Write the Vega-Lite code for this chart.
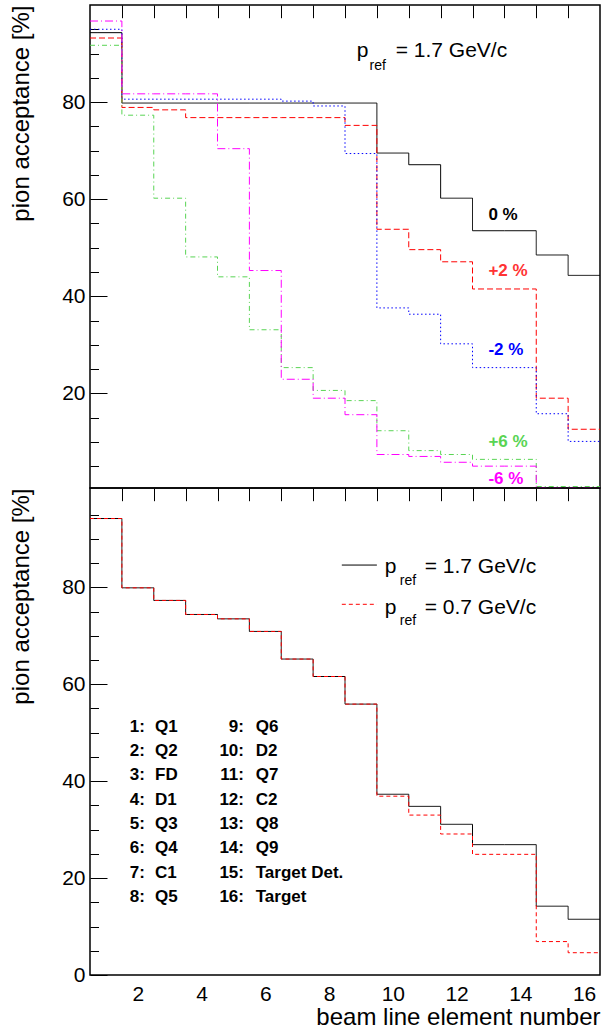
{
  "$schema": "https://vega.github.io/schema/vega-lite/v6.json",
  "padding": {"left": 8, "top": 4, "right": 3, "bottom": 0},
  "spacing": 0,
  "bounds": "flush",
  "config": {
    "font": "Liberation Sans",
    "view": {"stroke": "#000000", "strokeWidth": 1.5},
    "axis": {"domain": false, "ticks": false, "grid": true, "gridColor": "#000000", "gridWidth": 1, "gridOpacity": 1, "labelColor": "#000000", "titleColor": "#000000", "labelFont": "Liberation Sans", "titleFont": "Liberation Sans", "labelFontSize": 21, "titleFontSize": 24, "titleFontWeight": "normal", "labelOverlap": false, "labelBound": false, "labelFlush": false},
    "text": {"font": "Liberation Sans"}
  },
  "resolve": {"scale": {"x": "independent", "y": "independent", "color": "independent", "strokeDash": "independent"}},
  "vconcat": [
    {
      "width": 510,
      "height": 483,
      "resolve": {"axis": {"x": "independent", "y": "independent"}},
      "layer": [
        {
          "data": {"values": [
            {"series": "0 %", "element": 0.5, "acceptance": 94.3},
            {"series": "0 %", "element": 1, "acceptance": 94.3},
            {"series": "0 %", "element": 2, "acceptance": 79.8},
            {"series": "0 %", "element": 3, "acceptance": 79.8},
            {"series": "0 %", "element": 4, "acceptance": 79.8},
            {"series": "0 %", "element": 5, "acceptance": 79.8},
            {"series": "0 %", "element": 6, "acceptance": 79.8},
            {"series": "0 %", "element": 7, "acceptance": 79.8},
            {"series": "0 %", "element": 8, "acceptance": 79.8},
            {"series": "0 %", "element": 9, "acceptance": 79.8},
            {"series": "0 %", "element": 10, "acceptance": 69.5},
            {"series": "0 %", "element": 11, "acceptance": 67.1},
            {"series": "0 %", "element": 12, "acceptance": 60.2},
            {"series": "0 %", "element": 13, "acceptance": 53.5},
            {"series": "0 %", "element": 14, "acceptance": 53.5},
            {"series": "0 %", "element": 15, "acceptance": 48.5},
            {"series": "0 %", "element": 16, "acceptance": 44.3},
            {"series": "0 %", "element": 16.5, "acceptance": 44.3},
            {"series": "+2 %", "element": 0.5, "acceptance": 93.2},
            {"series": "+2 %", "element": 1, "acceptance": 93.2},
            {"series": "+2 %", "element": 2, "acceptance": 78.9},
            {"series": "+2 %", "element": 3, "acceptance": 78.4},
            {"series": "+2 %", "element": 4, "acceptance": 76.8},
            {"series": "+2 %", "element": 5, "acceptance": 76.8},
            {"series": "+2 %", "element": 6, "acceptance": 76.8},
            {"series": "+2 %", "element": 7, "acceptance": 76.8},
            {"series": "+2 %", "element": 8, "acceptance": 76.8},
            {"series": "+2 %", "element": 9, "acceptance": 75.2},
            {"series": "+2 %", "element": 10, "acceptance": 53.8},
            {"series": "+2 %", "element": 11, "acceptance": 49.6},
            {"series": "+2 %", "element": 12, "acceptance": 47.1},
            {"series": "+2 %", "element": 13, "acceptance": 41.5},
            {"series": "+2 %", "element": 14, "acceptance": 41.5},
            {"series": "+2 %", "element": 15, "acceptance": 19.0},
            {"series": "+2 %", "element": 16, "acceptance": 12.6},
            {"series": "+2 %", "element": 16.5, "acceptance": 12.6},
            {"series": "-2 %", "element": 0.5, "acceptance": 95.0},
            {"series": "-2 %", "element": 1, "acceptance": 95.0},
            {"series": "-2 %", "element": 2, "acceptance": 80.6},
            {"series": "-2 %", "element": 3, "acceptance": 80.6},
            {"series": "-2 %", "element": 4, "acceptance": 80.6},
            {"series": "-2 %", "element": 5, "acceptance": 80.6},
            {"series": "-2 %", "element": 6, "acceptance": 80.6},
            {"series": "-2 %", "element": 7, "acceptance": 80.2},
            {"series": "-2 %", "element": 8, "acceptance": 79.2},
            {"series": "-2 %", "element": 9, "acceptance": 69.4},
            {"series": "-2 %", "element": 10, "acceptance": 37.6},
            {"series": "-2 %", "element": 11, "acceptance": 36.3},
            {"series": "-2 %", "element": 12, "acceptance": 30.2},
            {"series": "-2 %", "element": 13, "acceptance": 25.3},
            {"series": "-2 %", "element": 14, "acceptance": 25.3},
            {"series": "-2 %", "element": 15, "acceptance": 15.8},
            {"series": "-2 %", "element": 16, "acceptance": 10.1},
            {"series": "-2 %", "element": 16.5, "acceptance": 10.1},
            {"series": "+6 %", "element": 0.5, "acceptance": 91.7},
            {"series": "+6 %", "element": 1, "acceptance": 91.7},
            {"series": "+6 %", "element": 2, "acceptance": 77.3},
            {"series": "+6 %", "element": 3, "acceptance": 60.2},
            {"series": "+6 %", "element": 4, "acceptance": 48.1},
            {"series": "+6 %", "element": 5, "acceptance": 44.0},
            {"series": "+6 %", "element": 6, "acceptance": 33.1},
            {"series": "+6 %", "element": 7, "acceptance": 25.3},
            {"series": "+6 %", "element": 8, "acceptance": 20.6},
            {"series": "+6 %", "element": 9, "acceptance": 18.5},
            {"series": "+6 %", "element": 10, "acceptance": 12.3},
            {"series": "+6 %", "element": 11, "acceptance": 8.2},
            {"series": "+6 %", "element": 12, "acceptance": 7.4},
            {"series": "+6 %", "element": 13, "acceptance": 6.4},
            {"series": "+6 %", "element": 14, "acceptance": 6.4},
            {"series": "+6 %", "element": 15, "acceptance": 0.8},
            {"series": "+6 %", "element": 16, "acceptance": 0.8},
            {"series": "+6 %", "element": 16.5, "acceptance": 0.8},
            {"series": "-6 %", "element": 0.5, "acceptance": 96.7},
            {"series": "-6 %", "element": 1, "acceptance": 96.7},
            {"series": "-6 %", "element": 2, "acceptance": 81.7},
            {"series": "-6 %", "element": 3, "acceptance": 81.7},
            {"series": "-6 %", "element": 4, "acceptance": 81.7},
            {"series": "-6 %", "element": 5, "acceptance": 70.4},
            {"series": "-6 %", "element": 6, "acceptance": 45.3},
            {"series": "-6 %", "element": 7, "acceptance": 22.9},
            {"series": "-6 %", "element": 8, "acceptance": 19.0},
            {"series": "-6 %", "element": 9, "acceptance": 15.6},
            {"series": "-6 %", "element": 10, "acceptance": 7.4},
            {"series": "-6 %", "element": 11, "acceptance": 7.0},
            {"series": "-6 %", "element": 12, "acceptance": 5.8},
            {"series": "-6 %", "element": 13, "acceptance": 5.0},
            {"series": "-6 %", "element": 14, "acceptance": 5.0},
            {"series": "-6 %", "element": 15, "acceptance": 0.6},
            {"series": "-6 %", "element": 16, "acceptance": 0.6},
            {"series": "-6 %", "element": 16.5, "acceptance": 0.6}
          ]},
          "mark": {"type": "line", "interpolate": "step", "strokeWidth": 1, "clip": true},
          "encoding": {
            "x": {"field": "element", "type": "quantitative", "scale": {"domain": [0.5, 16.5], "nice": false, "zero": false},
                  "axis": {"orient": "bottom", "values": [1.5, 2.5, 3.5, 4.5, 5.5, 6.5, 7.5, 8.5, 9.5, 10.5, 11.5, 12.5, 13.5, 14.5, 15.5], "gridDash": [12.7, 3000], "labels": false, "title": null}},
            "y": {"field": "acceptance", "type": "quantitative", "scale": {"domain": [0.5, 100], "nice": false, "zero": false},
                  "axis": {"orient": "left", "values": [5, 10, 15, 20, 25, 30, 35, 40, 45, 50, 55, 60, 65, 70, 75, 80, 85, 90, 95],
                           "gridDash": {"condition": {"test": "datum.value % 20 === 0", "value": [17, 3000]}, "value": [8.5, 3000]},
                           "labelExpr": "datum.value % 20 === 0 ? format(datum.value, 'd') : ''", "labelPadding": 5,
                           "title": "pion acceptance [%]", "titleAnchor": "end", "titlePadding": 28}},
            "color": {"field": "series", "type": "nominal", "legend": null,
                      "scale": {"domain": ["0 %", "+2 %", "-2 %", "+6 %", "-6 %"], "range": ["#000000", "#ff0000", "#0000ff", "#59d454", "#ff00ff"]}},
            "strokeDash": {"field": "series", "type": "nominal", "legend": null,
                           "scale": {"domain": ["0 %", "+2 %", "-2 %", "+6 %", "-6 %"], "range": [[1, 0], [6, 3], [1.5, 2.5], [5, 3, 1, 3], [8, 3, 1, 3]]}}
          }
        },
        {
          "data": {"values": [{}]},
          "mark": {"type": "text", "text": "p", "align": "left", "baseline": "alphabetic", "fontSize": 21, "color": "#000000"},
          "encoding": {
            "x": {"datum": 8.87, "type": "quantitative", "axis": {"orient": "top", "values": [1.5, 2.5, 3.5, 4.5, 5.5, 6.5, 7.5, 8.5, 9.5, 10.5, 11.5, 12.5, 13.5, 14.5, 15.5], "gridDash": [12.7, 3000], "labels": false, "title": null}},
            "y": {"datum": 89.2, "type": "quantitative", "axis": {"orient": "right", "values": [5, 10, 15, 20, 25, 30, 35, 40, 45, 50, 55, 60, 65, 70, 75, 80, 85, 90, 95], "gridDash": {"condition": {"test": "datum.value % 20 === 0", "value": [17, 3000]}, "value": [8.5, 3000]}, "labels": false, "title": null}}
          }
        },
        {
          "data": {"values": [{}]},
          "mark": {"type": "text", "text": "ref", "align": "left", "baseline": "alphabetic", "fontSize": 14, "color": "#000000"},
          "encoding": {"x": {"datum": 9.27, "type": "quantitative", "axis": null}, "y": {"datum": 86.65, "type": "quantitative", "axis": null}}
        },
        {
          "data": {"values": [{}]},
          "mark": {"type": "text", "text": "= 1.7 GeV/c", "align": "left", "baseline": "alphabetic", "fontSize": 21, "color": "#000000"},
          "encoding": {"x": {"datum": 10.09, "type": "quantitative", "axis": null}, "y": {"datum": 89.2, "type": "quantitative", "axis": null}}
        },
        {
          "data": {"values": [{}]},
          "mark": {"type": "text", "text": "0 %", "align": "left", "baseline": "alphabetic", "fontSize": 17, "fontWeight": "bold", "color": "#000000"},
          "encoding": {"x": {"datum": 13.0, "type": "quantitative", "axis": null}, "y": {"datum": 55.8, "type": "quantitative", "axis": null}}
        },
        {
          "data": {"values": [{}]},
          "mark": {"type": "text", "text": "+2 %", "align": "left", "baseline": "alphabetic", "fontSize": 17, "fontWeight": "bold", "color": "#ff3333"},
          "encoding": {"x": {"datum": 13.0, "type": "quantitative", "axis": null}, "y": {"datum": 44.1, "type": "quantitative", "axis": null}}
        },
        {
          "data": {"values": [{}]},
          "mark": {"type": "text", "text": "-2 %", "align": "left", "baseline": "alphabetic", "fontSize": 17, "fontWeight": "bold", "color": "#0000ff"},
          "encoding": {"x": {"datum": 13.0, "type": "quantitative", "axis": null}, "y": {"datum": 27.95, "type": "quantitative", "axis": null}}
        },
        {
          "data": {"values": [{}]},
          "mark": {"type": "text", "text": "+6 %", "align": "left", "baseline": "alphabetic", "fontSize": 17, "fontWeight": "bold", "color": "#59d454"},
          "encoding": {"x": {"datum": 13.0, "type": "quantitative", "axis": null}, "y": {"datum": 8.9, "type": "quantitative", "axis": null}}
        },
        {
          "data": {"values": [{}]},
          "mark": {"type": "text", "text": "-6 %", "align": "left", "baseline": "alphabetic", "fontSize": 17, "fontWeight": "bold", "color": "#ff00ff"},
          "encoding": {"x": {"datum": 13.0, "type": "quantitative", "axis": null}, "y": {"datum": 1.4, "type": "quantitative", "axis": null}}
        }
      ]
    },
    {
      "width": 510,
      "height": 487,
      "resolve": {"axis": {"x": "independent", "y": "independent"}},
      "layer": [
        {
          "data": {"values": [
            {"series": "1.7 GeV/c", "element": 0.5, "acceptance": 94.2},
            {"series": "1.7 GeV/c", "element": 1, "acceptance": 94.2},
            {"series": "1.7 GeV/c", "element": 2, "acceptance": 79.9},
            {"series": "1.7 GeV/c", "element": 3, "acceptance": 77.3},
            {"series": "1.7 GeV/c", "element": 4, "acceptance": 74.4},
            {"series": "1.7 GeV/c", "element": 5, "acceptance": 73.5},
            {"series": "1.7 GeV/c", "element": 6, "acceptance": 70.9},
            {"series": "1.7 GeV/c", "element": 7, "acceptance": 65.2},
            {"series": "1.7 GeV/c", "element": 8, "acceptance": 61.6},
            {"series": "1.7 GeV/c", "element": 9, "acceptance": 55.9},
            {"series": "1.7 GeV/c", "element": 10, "acceptance": 37.3},
            {"series": "1.7 GeV/c", "element": 11, "acceptance": 34.8},
            {"series": "1.7 GeV/c", "element": 12, "acceptance": 31.1},
            {"series": "1.7 GeV/c", "element": 13, "acceptance": 26.9},
            {"series": "1.7 GeV/c", "element": 14, "acceptance": 26.9},
            {"series": "1.7 GeV/c", "element": 15, "acceptance": 14.2},
            {"series": "1.7 GeV/c", "element": 16, "acceptance": 11.5},
            {"series": "1.7 GeV/c", "element": 16.5, "acceptance": 11.5},
            {"series": "0.7 GeV/c", "element": 0.5, "acceptance": 94.2},
            {"series": "0.7 GeV/c", "element": 1, "acceptance": 94.2},
            {"series": "0.7 GeV/c", "element": 2, "acceptance": 79.9},
            {"series": "0.7 GeV/c", "element": 3, "acceptance": 77.3},
            {"series": "0.7 GeV/c", "element": 4, "acceptance": 74.4},
            {"series": "0.7 GeV/c", "element": 5, "acceptance": 73.5},
            {"series": "0.7 GeV/c", "element": 6, "acceptance": 70.9},
            {"series": "0.7 GeV/c", "element": 7, "acceptance": 65.2},
            {"series": "0.7 GeV/c", "element": 8, "acceptance": 61.6},
            {"series": "0.7 GeV/c", "element": 9, "acceptance": 55.9},
            {"series": "0.7 GeV/c", "element": 10, "acceptance": 36.9},
            {"series": "0.7 GeV/c", "element": 11, "acceptance": 33.0},
            {"series": "0.7 GeV/c", "element": 12, "acceptance": 29.1},
            {"series": "0.7 GeV/c", "element": 13, "acceptance": 24.9},
            {"series": "0.7 GeV/c", "element": 14, "acceptance": 24.9},
            {"series": "0.7 GeV/c", "element": 15, "acceptance": 6.9},
            {"series": "0.7 GeV/c", "element": 16, "acceptance": 4.6},
            {"series": "0.7 GeV/c", "element": 16.5, "acceptance": 4.6}
          ]},
          "mark": {"type": "line", "interpolate": "step", "strokeWidth": 1, "clip": true},
          "encoding": {
            "x": {"field": "element", "type": "quantitative", "scale": {"domain": [0.5, 16.5], "nice": false, "zero": false},
                  "axis": {"orient": "bottom", "values": [1.5, 2, 2.5, 3.5, 4, 4.5, 5.5, 6, 6.5, 7.5, 8, 8.5, 9.5, 10, 10.5, 11.5, 12, 12.5, 13.5, 14, 14.5, 15.5, 16],
                           "gridDash": [12.7, 3000], "gridOpacity": {"condition": {"test": "datum.value % 1 === 0", "value": 0}, "value": 1},
                           "labelExpr": "datum.value % 2 === 0 ? format(datum.value, 'd') : ''", "labelPadding": 8.3,
                           "title": "beam line element number", "titleAnchor": "end", "titlePadding": 1}},
            "y": {"field": "acceptance", "type": "quantitative", "scale": {"domain": [0, 100.5], "nice": false, "zero": false},
                  "axis": {"orient": "left", "values": [0, 5, 10, 15, 20, 25, 30, 35, 40, 45, 50, 55, 60, 65, 70, 75, 80, 85, 90, 95],
                           "gridDash": {"condition": {"test": "datum.value % 20 === 0", "value": [17, 3000]}, "value": [8.5, 3000]},
                           "labelExpr": "datum.value % 20 === 0 ? format(datum.value, 'd') : ''", "labelPadding": 5,
                           "title": "pion acceptance [%]", "titleAnchor": "end", "titlePadding": 28}},
            "color": {"field": "series", "type": "nominal", "legend": null,
                      "scale": {"domain": ["1.7 GeV/c", "0.7 GeV/c"], "range": ["#000000", "#ff0000"]}},
            "strokeDash": {"field": "series", "type": "nominal", "legend": null,
                           "scale": {"domain": ["1.7 GeV/c", "0.7 GeV/c"], "range": [[1, 0], [4, 3]]}}
          }
        },
        {
          "data": {"values": [{}]},
          "mark": {"type": "rule", "color": "#000000", "strokeWidth": 1},
          "encoding": {
            "x": {"datum": 8.4, "type": "quantitative", "axis": {"orient": "top", "values": [1.5, 2.5, 3.5, 4.5, 5.5, 6.5, 7.5, 8.5, 9.5, 10.5, 11.5, 12.5, 13.5, 14.5, 15.5], "gridDash": [12.7, 3000], "labels": false, "title": null}},
            "x2": {"datum": 9.5},
            "y": {"datum": 84.6, "type": "quantitative", "axis": {"orient": "right", "values": [0, 5, 10, 15, 20, 25, 30, 35, 40, 45, 50, 55, 60, 65, 70, 75, 80, 85, 90, 95], "gridDash": {"condition": {"test": "datum.value % 20 === 0", "value": [17, 3000]}, "value": [8.5, 3000]}, "labels": false, "title": null}}
          }
        },
        {
          "data": {"values": [{}]},
          "mark": {"type": "rule", "color": "#ff0000", "strokeWidth": 1, "strokeDash": [4, 3]},
          "encoding": {"x": {"datum": 8.4, "type": "quantitative", "axis": null}, "x2": {"datum": 9.5}, "y": {"datum": 76.5, "type": "quantitative", "axis": null}}
        },
        {
          "data": {"values": [{}]},
          "mark": {"type": "text", "text": "p", "align": "left", "baseline": "alphabetic", "fontSize": 21, "color": "#000000"},
          "encoding": {"x": {"datum": 9.75, "type": "quantitative", "axis": null}, "y": {"datum": 82.9, "type": "quantitative", "axis": null}}
        },
        {
          "data": {"values": [{}]},
          "mark": {"type": "text", "text": "ref", "align": "left", "baseline": "alphabetic", "fontSize": 14, "color": "#000000"},
          "encoding": {"x": {"datum": 10.22, "type": "quantitative", "axis": null}, "y": {"datum": 80.5, "type": "quantitative", "axis": null}}
        },
        {
          "data": {"values": [{}]},
          "mark": {"type": "text", "text": "= 1.7 GeV/c", "align": "left", "baseline": "alphabetic", "fontSize": 21, "color": "#000000"},
          "encoding": {"x": {"datum": 11.0, "type": "quantitative", "axis": null}, "y": {"datum": 82.9, "type": "quantitative", "axis": null}}
        },
        {
          "data": {"values": [{}]},
          "mark": {"type": "text", "text": "p", "align": "left", "baseline": "alphabetic", "fontSize": 21, "color": "#000000"},
          "encoding": {"x": {"datum": 9.75, "type": "quantitative", "axis": null}, "y": {"datum": 74.6, "type": "quantitative", "axis": null}}
        },
        {
          "data": {"values": [{}]},
          "mark": {"type": "text", "text": "ref", "align": "left", "baseline": "alphabetic", "fontSize": 14, "color": "#000000"},
          "encoding": {"x": {"datum": 10.22, "type": "quantitative", "axis": null}, "y": {"datum": 72.2, "type": "quantitative", "axis": null}}
        },
        {
          "data": {"values": [{}]},
          "mark": {"type": "text", "text": "= 0.7 GeV/c", "align": "left", "baseline": "alphabetic", "fontSize": 21, "color": "#000000"},
          "encoding": {"x": {"datum": 11.0, "type": "quantitative", "axis": null}, "y": {"datum": 74.6, "type": "quantitative", "axis": null}}
        },
        {
          "data": {"values": [{}]},
          "mark": {"type": "text", "text": ["1:", "2:", "3:", "4:", "5:", "6:", "7:", "8:"], "align": "right", "baseline": "top", "lineHeight": 24.3, "fontSize": 17, "fontWeight": "bold", "color": "#000000"},
          "encoding": {"x": {"datum": 2.22, "type": "quantitative", "axis": null}, "y": {"datum": 52.85, "type": "quantitative", "axis": null}}
        },
        {
          "data": {"values": [{}]},
          "mark": {"type": "text", "text": ["Q1", "Q2", "FD", "D1", "Q3", "Q4", "C1", "Q5"], "align": "left", "baseline": "top", "lineHeight": 24.3, "fontSize": 17, "fontWeight": "bold", "color": "#000000"},
          "encoding": {"x": {"datum": 2.54, "type": "quantitative", "axis": null}, "y": {"datum": 52.85, "type": "quantitative", "axis": null}}
        },
        {
          "data": {"values": [{}]},
          "mark": {"type": "text", "text": ["9:", "10:", "11:", "12:", "13:", "14:", "15:", "16:"], "align": "right", "baseline": "top", "lineHeight": 24.3, "fontSize": 17, "fontWeight": "bold", "color": "#000000"},
          "encoding": {"x": {"datum": 5.33, "type": "quantitative", "axis": null}, "y": {"datum": 52.85, "type": "quantitative", "axis": null}}
        },
        {
          "data": {"values": [{}]},
          "mark": {"type": "text", "text": ["Q6", "D2", "Q7", "C2", "Q8", "Q9", "Target Det.", "Target"], "align": "left", "baseline": "top", "lineHeight": 24.3, "fontSize": 17, "fontWeight": "bold", "color": "#000000"},
          "encoding": {"x": {"datum": 5.7, "type": "quantitative", "axis": null}, "y": {"datum": 52.85, "type": "quantitative", "axis": null}}
        }
      ]
    }
  ]
}
